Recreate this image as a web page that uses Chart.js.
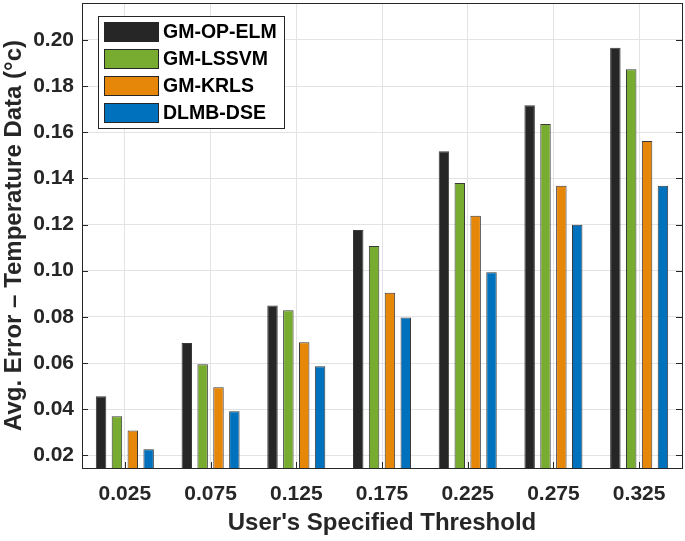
<!DOCTYPE html>
<html>
<head>
<meta charset="utf-8">
<script src="https://cdn.jsdelivr.net/npm/chart.js@4"></script>
<style>
    html, body { margin: 0; padding: 0; background: #fff; }
    #wrap { width: 685px; height: 541px; }
</style>
</head>
<body>
<div id="wrap"><canvas id="myChart" width="685" height="541"></canvas></div>
<script>
const thresholds = ['0.025', '0.075', '0.125', '0.175', '0.225', '0.275', '0.325'];
const gmOpElm = [0.0456, 0.0687, 0.0849, 0.1176, 0.1518, 0.1717, 0.1966];
const gmLssvm = [0.0369, 0.0595, 0.0829, 0.1107, 0.1380, 0.1636, 0.1873];
const gmKrls = [0.0308, 0.0495, 0.0690, 0.0904, 0.1238, 0.1368, 0.1562];
const dlmbDse = [0.0226, 0.0391, 0.0586, 0.0797, 0.0993, 0.1199, 0.1368];
const yTicks = [0.02, 0.04, 0.06, 0.08, 0.10, 0.12, 0.14, 0.16, 0.18, 0.20];

const FONT = '"Liberation Sans", Arial, sans-serif';
const AXIS = '#262626';

// matlab-style box, inward ticks and legend drawn inside the axes
const boxPlugin = {
    id: 'boxPlugin',
    afterDatasetsDraw(chart) {
        const { ctx, chartArea: a, scales } = chart;
        ctx.save();
        ctx.strokeStyle = AXIS;
        ctx.lineWidth = 1;
        ctx.beginPath();
        scales.y.ticks.forEach(t => {
            const y = Math.round(scales.y.getPixelForValue(t.value)) + 0.5;
            ctx.moveTo(a.left, y); ctx.lineTo(a.left + 6, y);
            ctx.moveTo(a.right, y); ctx.lineTo(a.right - 6, y);
        });
        thresholds.forEach((_, i) => {
            const x = Math.round(scales.x.getPixelForValue(i)) + 0.5;
            ctx.moveTo(x, a.bottom); ctx.lineTo(x, a.bottom - 6);
        });
        ctx.stroke();
        ctx.strokeRect(Math.round(a.left) + 0.5, Math.round(a.top) + 0.5,
            Math.round(a.right - a.left), Math.round(a.bottom - a.top));

        // legend
        const lx = a.left + 16, ly = a.top + 13;
        ctx.fillStyle = '#fff';
        ctx.fillRect(lx, ly, 186, 112);
        ctx.strokeRect(lx + 0.5, ly + 0.5, 186, 112);
        ctx.font = `bold 19.5px ${FONT}`;
        ctx.textBaseline = 'middle';
        chart.data.datasets.forEach((ds, i) => {
            const ry = ly + 16 + i * 27;
            ctx.fillStyle = ds.backgroundColor;
            ctx.fillRect(lx + 6, ry - 10, 55, 20);
            ctx.strokeStyle = AXIS;
            ctx.strokeRect(lx + 6.5, ry - 9.5, 54, 19);
            ctx.fillStyle = '#000';
            ctx.fillText(ds.label, lx + 65, ry + 1);
        });
        ctx.restore();
    }
};

const ctx = document.getElementById('myChart').getContext('2d');
const mk = (label, data, color) => ({
    label, data,
    backgroundColor: color,
    borderColor: '#3a3a3a',
    borderWidth: 1,
    categoryPercentage: 0.74,
    barPercentage: 0.66
});

new Chart(ctx, {
    type: 'bar',
    data: {
        labels: thresholds,
        datasets: [
            mk('GM-OP-ELM', gmOpElm, '#262626'),
            mk('GM-LSSVM', gmLssvm, '#77AC30'),
            mk('GM-KRLS', gmKrls, '#E6870A'),
            mk('DLMB-DSE', dlmbDse, '#0072BD')
        ]
    },
    options: {
        responsive: false,
        animation: false,
        layout: { padding: { top: 3, right: 3, left: 0, bottom: 0 } },
        plugins: { legend: { display: false }, tooltip: { enabled: false } },
        scales: {
            x: {
                grid: { offset: false, color: '#e3e3e3', drawTicks: false },
                border: { display: false },
                ticks: { color: AXIS, padding: 14, font: { family: FONT, size: 21, weight: 'bold' } },
                title: {
                    display: true, text: "User's Specified Threshold", color: AXIS,
                    font: { family: FONT, size: 24, weight: 'bold' }, padding: { top: 2, bottom: 3 }
                },
                afterFit: s => { s.height = 73; s.paddingLeft = 0; s.paddingRight = 0; }
            },
            y: {
                min: 0.0145,
                max: 0.216,
                grid: { color: '#e3e3e3', drawTicks: false },
                border: { display: false },
                afterBuildTicks: s => { s.ticks = yTicks.map(v => ({ value: v })); },
                ticks: {
                    color: AXIS, padding: 8,
                    font: { family: FONT, size: 21, weight: 'bold' },
                    callback: v => v.toFixed(2)
                },
                title: {
                    display: true, text: 'Avg. Error – Temperature Data (°c)', color: AXIS,
                    font: { family: FONT, size: 24, weight: 'bold' }, padding: { top: 0, bottom: 2 }
                },
                afterFit: s => { s.width = 82; s.paddingTop = 0; s.paddingBottom = 0; }
            }
        }
    },
    plugins: [boxPlugin]
});
</script>
</body>
</html>
